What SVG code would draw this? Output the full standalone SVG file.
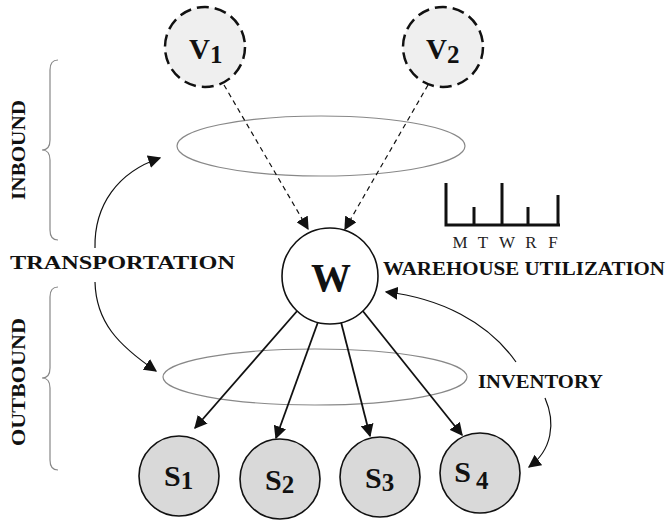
<svg xmlns="http://www.w3.org/2000/svg" width="669" height="520" viewBox="0 0 669 520">
  <style>
    .lbl { font-family: "Liberation Serif", "Times New Roman", serif; font-weight: bold; fill: #111; }
    .day { font-family: "Liberation Serif", "Times New Roman", serif; font-size: 17px; fill: #222; }
    .vendor { fill: #efefef; stroke: #111; stroke-width: 2.5; stroke-dasharray: 12 6; }
    .store { fill: #d9d9d9; stroke: #111; stroke-width: 1.6; }
    .hub { fill: #fff; stroke: #111; stroke-width: 1.6; }
    .zone { fill: none; stroke: #888; stroke-width: 1.2; }
    .brace { fill: none; stroke: #888; stroke-width: 1.2; }
    .flow { fill: none; stroke: #111; stroke-width: 1.8; marker-end: url(#head); }
    .supply { fill: none; stroke: #111; stroke-width: 1.2; stroke-dasharray: 5 4; marker-end: url(#head); }
    .link { fill: none; stroke: #111; stroke-width: 1.2; marker-end: url(#head); }
    .chart { fill: none; stroke: #111; stroke-width: 3; }
  </style>
  <defs>
    <marker id="head" viewBox="0 0 10 10" refX="9" refY="5" markerWidth="13" markerHeight="13" markerUnits="userSpaceOnUse" orient="auto">
      <path d="M0 0 L10 5 L0 10 Z" fill="#111"/>
    </marker>
  </defs>

  <rect width="669" height="520" fill="#fff"/>

  <!-- side braces and section labels -->
  <g id="inbound">
    <path class="brace" d="M58 60 Q50 60 50 70 L50 140 Q50 150 42 150 Q50 150 50 160 L50 230 Q50 240 58 240"/>
    <text class="lbl" font-size="19" transform="translate(25 150) rotate(-90)" text-anchor="middle" textLength="100" lengthAdjust="spacingAndGlyphs">INBOUND</text>
  </g>
  <g id="outbound">
    <path class="brace" d="M58 287 Q50 287 50 297 L50 368 Q50 378 42 378 Q50 378 50 388 L50 460 Q50 470 58 470"/>
    <text class="lbl" font-size="19" transform="translate(25 382) rotate(-90)" text-anchor="middle" textLength="128" lengthAdjust="spacingAndGlyphs">OUTBOUND</text>
  </g>

  <!-- transport zones -->
  <ellipse id="inbound-zone" class="zone" cx="321" cy="146" rx="144" ry="30"/>
  <ellipse id="outbound-zone" class="zone" cx="315" cy="377" rx="152" ry="28"/>

  <!-- connectors -->
  <g id="connectors">
    <line class="supply" x1="224" y1="85" x2="308" y2="229"/>
    <line class="supply" x1="428" y1="85" x2="345" y2="229"/>
    <line class="flow" x1="298" y1="310" x2="195" y2="428"/>
    <line class="flow" x1="318" y1="322" x2="276" y2="438"/>
    <line class="flow" x1="341" y1="322" x2="370" y2="436"/>
    <line class="flow" x1="362" y1="310" x2="462" y2="435"/>
    <!-- transportation double arrow -->
    <path class="link" d="M95 248 C94 205 118 172 160 158"/>
    <path class="link" d="M95 282 C96 322 118 345 156 371"/>
    <!-- inventory arrows -->
    <path class="link" d="M516 362 C488 322 440 298 386 292"/>
    <path class="link" d="M545 398 C556 423 552 450 529 467"/>
  </g>

  <!-- vendors -->
  <g id="v1">
    <circle class="vendor" cx="205" cy="47" r="40"/>
    <text class="lbl" x="189" y="59" font-size="29">V<tspan font-size="25" dy="4">1</tspan></text>
  </g>
  <g id="v2">
    <circle class="vendor" cx="443" cy="47" r="40"/>
    <text class="lbl" x="426" y="59" font-size="29">V<tspan font-size="25" dy="4">2</tspan></text>
  </g>

  <!-- warehouse -->
  <g id="w">
    <circle class="hub" cx="330" cy="276" r="48"/>
    <text class="lbl" x="331" y="291" font-size="40" text-anchor="middle">W</text>
  </g>

  <!-- stores -->
  <g id="s1">
    <circle class="store" cx="179" cy="476" r="40"/>
    <text class="lbl" x="164" y="486" font-size="30">S<tspan font-size="25" dy="3">1</tspan></text>
  </g>
  <g id="s2">
    <circle class="store" cx="280" cy="479" r="40"/>
    <text class="lbl" x="265" y="490" font-size="30">S<tspan font-size="25" dy="3">2</tspan></text>
  </g>
  <g id="s3">
    <circle class="store" cx="380" cy="477" r="40"/>
    <text class="lbl" x="365" y="488" font-size="30">S<tspan font-size="25" dy="3">3</tspan></text>
  </g>
  <g id="s4">
    <circle class="store" cx="480" cy="473" r="40"/>
    <text class="lbl" x="471" y="482" font-size="30" text-anchor="end">S</text>
    <text class="lbl" x="476" y="489" font-size="25">4</text>
  </g>

  <!-- utilization chart -->
  <g id="utilization">
    <path class="chart" d="M446 183 V225 H560 M474 207 V225 M502 183 V225 M528 207 V225 M558 195 V225"/>
    <text class="day" x="460" y="248" text-anchor="middle">M</text>
    <text class="day" x="483" y="248" text-anchor="middle">T</text>
    <text class="day" x="507" y="248" text-anchor="middle">W</text>
    <text class="day" x="531" y="248" text-anchor="middle">R</text>
    <text class="day" x="553" y="248" text-anchor="middle">F</text>
  </g>

  <!-- labels -->
  <text class="lbl" x="10" y="269" font-size="19" textLength="225" lengthAdjust="spacingAndGlyphs">TRANSPORTATION</text>
  <text class="lbl" x="383" y="275" font-size="19" textLength="282" lengthAdjust="spacingAndGlyphs">WAREHOUSE UTILIZATION</text>
  <text class="lbl" x="478" y="388" font-size="19" textLength="125" lengthAdjust="spacingAndGlyphs">INVENTORY</text>
</svg>
